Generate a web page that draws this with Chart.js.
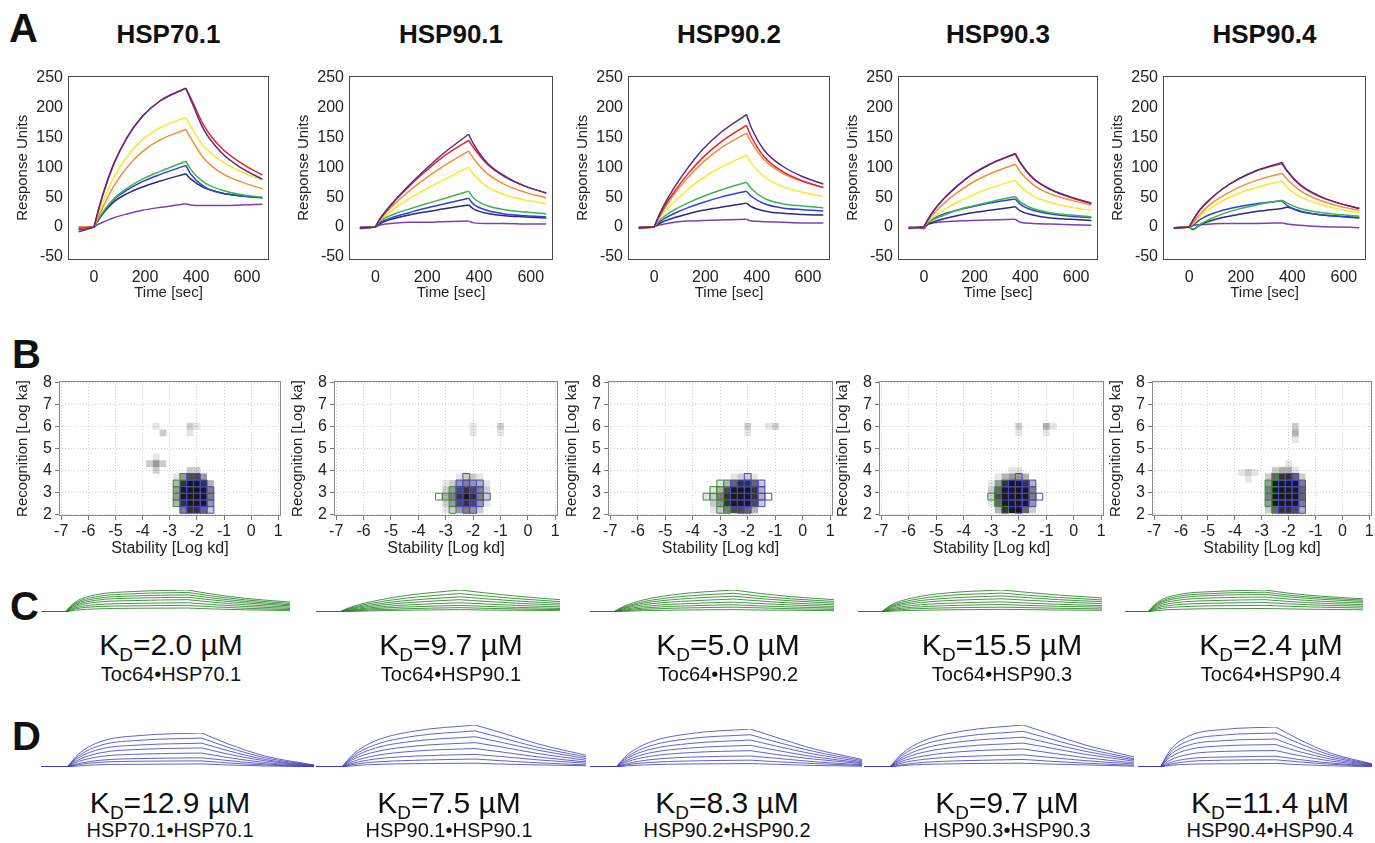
<!DOCTYPE html>
<html>
<head>
<meta charset="utf-8">
<title>HSP binding kinetics</title>
<script src="https://cdn.jsdelivr.net/npm/chart.js@4.4.1/dist/chart.umd.min.js"></script>
<style>
  body { margin: 0; background: #fff; font-family: 'Liberation Sans', Arial, Helvetica, sans-serif; color: #111; }
  #fig { position: relative; width: 1375px; height: 843px; overflow: hidden; }
  canvas { position: absolute; }
  .lab { position: absolute; font-weight: bold; font-size: 40px; line-height: 1; }
  .ttl { position: absolute; font-weight: bold; font-size: 26px; line-height: 1; transform: translateX(-50%); white-space: nowrap; }
  .kd { position: absolute; font-size: 30px; line-height: 1; transform: translateX(-50%); white-space: nowrap; }
  .kd sub { font-size: 19px; vertical-align: -6px; line-height: 0; }
  .pair { position: absolute; font-size: 20px; line-height: 1; transform: translateX(-50%); white-space: nowrap; }
</style>
</head>
<body>
<div id="fig">
  <div class="lab" style="left:9px;top:8px">A</div>
  <div class="lab" style="left:12px;top:334px">B</div>
  <div class="lab" style="left:10px;top:586px">C</div>
  <div class="lab" style="left:12px;top:716px">D</div>
</div>
<script>
// ---- data ----
const proteins = ['HSP70.1', 'HSP90.1', 'HSP90.2', 'HSP90.3', 'HSP90.4'];

// sensorgram time points (s); each curve: purple, red, orange, yellow, green, blue, navy, violet
const tAssay = [-60, 0, 15, 40, 80, 130, 190, 260, 360, 380, 430, 500, 580, 660];
const sprHSP701 = [
  [-8, 0, 25, 61, 108, 150, 185, 211, 232, 212, 163, 124, 98, 80],
  [-2, 0, 25, 61, 108, 150, 185, 211, 232, 215, 170, 132, 106, 87],
  [0, 0, 15, 38, 70, 100, 126, 146, 163, 148, 115, 90, 75, 64],
  [-2, 0, 20, 48, 85, 118, 146, 166, 183, 168, 135, 110, 92, 78],
  [0, 0, 12, 28, 48, 65, 80, 93, 110, 96, 75, 62, 54, 50],
  [-2, 0, 11, 27, 47, 62, 76, 88, 103, 88, 68, 57, 52, 49],
  [-3, 0, 10, 25, 43, 56, 67, 77, 89, 80, 66, 57, 52, 49],
  [-5, 0, 4, 9, 16, 22, 28, 33, 39, 37, 36, 36, 37, 38]
];
const sprHSP901 = [
  [-2, 0, 12, 27, 47, 70, 95, 122, 155, 138, 108, 85, 68, 57],
  [-2, 0, 12, 26, 46, 68, 92, 117, 145, 132, 106, 84, 68, 57],
  [-3, 0, 11, 24, 41, 60, 80, 101, 127, 114, 90, 71, 58, 49],
  [-3, 0, 10, 20, 33, 47, 62, 78, 100, 88, 68, 54, 45, 39],
  [-1, 0, 9, 16, 23, 30, 38, 47, 60, 48, 36, 29, 25, 22],
  [-1, 0, 7, 12, 18, 24, 31, 38, 48, 38, 28, 22, 19, 17],
  [-1, 0, 5, 10, 15, 20, 25, 30, 37, 30, 23, 19, 17, 15],
  [0, 0, 3, 5, 7, 8, 8, 9, 10, 7, 6, 6, 5, 5]
];
const sprHSP902 = [
  [-2, 0, 16, 38, 67, 98, 130, 158, 188, 165, 128, 102, 84, 72],
  [-1, 0, 14, 34, 60, 88, 116, 142, 170, 150, 117, 93, 77, 66],
  [-2, 0, 13, 31, 56, 82, 108, 132, 157, 141, 112, 90, 76, 66],
  [-3, 0, 11, 25, 43, 62, 82, 100, 120, 106, 84, 68, 58, 51],
  [-1, 0, 9, 18, 29, 40, 51, 62, 75, 64, 48, 39, 35, 32],
  [-1, 0, 7, 14, 23, 32, 41, 50, 60, 51, 39, 32, 29, 27],
  [-1, 0, 5, 10, 16, 22, 28, 33, 40, 34, 27, 23, 21, 20],
  [0, 0, 3, 5, 8, 10, 11, 12, 13, 10, 9, 8, 7, 7]
];
const sprHSP903 = [
  [-2, 0, 12, 28, 48, 68, 88, 105, 123, 108, 82, 63, 50, 40],
  [-2, 0, 12, 28, 48, 68, 88, 105, 122, 107, 81, 62, 49, 39],
  [-3, 0, 10, 23, 40, 57, 74, 89, 105, 92, 71, 55, 45, 37],
  [-2, 0, 9, 17, 29, 41, 53, 65, 78, 68, 52, 41, 33, 28],
  [-1, 0, 7, 13, 20, 28, 35, 42, 51, 42, 31, 24, 20, 17],
  [-1, 0, 8, 15, 22, 28, 34, 40, 47, 38, 28, 22, 18, 16],
  [-1, 0, 5, 9, 14, 19, 24, 28, 34, 27, 20, 15, 13, 11],
  [0, -3, 4, 7, 9, 10, 11, 12, 13, 8, 6, 5, 4, 3]
];
const sprHSP904 = [
  [-2, 0, 12, 28, 46, 64, 80, 94, 108, 94, 71, 53, 40, 31],
  [-2, 0, 12, 28, 46, 64, 80, 94, 106, 93, 70, 52, 40, 31],
  [-3, 0, 8, 21, 37, 52, 66, 78, 90, 80, 61, 46, 35, 28],
  [-2, 0, 6, 17, 31, 44, 56, 66, 77, 66, 51, 39, 30, 24],
  [-1, 0, -3, 4, 13, 22, 30, 37, 45, 40, 31, 25, 21, 18],
  [-1, 0, 3, 12, 21, 28, 34, 39, 44, 36, 27, 21, 18, 16],
  [-1, 0, -4, 3, 10, 16, 21, 26, 31, 33, 26, 21, 18, 15],
  [-1, 0, 3, 4, 5, 6, 6, 6, 7, 5, 3, 1, 0, -1]
];
const sprCurves = [sprHSP701, sprHSP901, sprHSP902, sprHSP903, sprHSP904];
const xTicksA = [0, 200, 400, 600];
const yTicksA = [-50, 0, 50, 100, 150, 200, 250];

// kinetic map cells: grey density (0-9) on a grid, plus fitted outlines
const heatCols = [-3.5, -3.25, -3.0, -2.75, -2.5, -2.25, -2.0, -1.75, -1.5, -1.25];
const heatRows = [4.0, 3.7, 3.4, 3.1, 2.8, 2.5, 2.2];
const heatHSP701 = [
  [0,0,0,0,0,2,2,0,0,0],
  [0,0,0,1,4,7,7,4,0,0],
  [0,0,0,3,8,9,9,8,3,0],
  [0,0,0,4,9,9,9,9,5,0],
  [0,0,0,4,9,9,9,9,5,0],
  [0,0,0,3,8,9,9,9,4,0],
  [0,0,0,0,5,8,8,6,2,0]
];
const heatHSP901 = [
  [0,0,0,0,0,0,0,0,0,0],
  [0,0,0,0,1,2,2,1,0,0],
  [0,0,1,2,4,5,4,3,1,0],
  [0,0,2,4,7,8,7,5,2,0],
  [0,0,3,5,8,9,8,5,2,0],
  [0,0,2,4,7,8,7,4,1,0],
  [0,0,1,2,4,5,4,2,0,0]
];
const heatHSP902 = [
  [0,0,0,0,0,0,0,0,0,0],
  [0,0,0,0,1,2,2,1,0,0],
  [0,0,1,3,6,8,8,6,2,0],
  [0,1,3,7,9,9,9,8,3,0],
  [1,2,5,8,9,9,9,8,3,0],
  [0,2,4,8,9,9,9,7,2,0],
  [0,1,2,5,7,7,6,3,0,0]
];
const heatHSP903 = [
  [0,0,0,0,0,1,1,0,0,0],
  [0,0,0,1,3,4,4,3,0,0],
  [0,0,1,4,8,9,9,8,3,0],
  [0,0,2,6,9,9,9,9,5,0],
  [0,0,2,7,9,9,9,9,5,0],
  [0,0,1,6,9,9,9,9,4,0],
  [0,0,0,3,8,9,9,6,2,0]
];
const heatHSP904 = [
  [0,0,0,0,2,3,3,1,0,0],
  [0,0,0,2,6,8,8,6,2,0],
  [0,0,0,4,9,9,9,9,5,0],
  [0,0,0,5,9,9,9,9,6,0],
  [0,0,0,5,9,9,9,9,6,0],
  [0,0,0,4,9,9,9,9,5,0],
  [0,0,0,2,6,8,8,7,3,0]
];
const heatMaps = [heatHSP701, heatHSP901, heatHSP902, heatHSP903, heatHSP904];

// faint side populations: [log kd, log ka, density]
const faintCells = [
  [[-3.75,4.3,2],[-3.5,4.3,4],[-3.25,4.3,2],[-3.5,4.0,2],[-3.5,4.6,1],[-3.25,5.7,2],[-3.5,6.0,1],[-2.25,6.0,2],[-2.0,6.0,1],[-2.25,5.7,1]],
  [[-2.0,6.0,1],[-2.0,5.7,1],[-1.0,6.0,2],[-1.0,5.7,1]],
  [[-2.0,6.0,2],[-2.0,5.7,1],[-1.0,6.0,2],[-1.25,6.0,1]],
  [[-2.0,6.0,2],[-2.0,5.7,1],[-1.0,6.0,3],[-0.75,6.0,1],[-1.0,5.7,1]],
  [[-3.75,3.9,1],[-3.5,3.9,2],[-3.25,3.9,1],[-3.5,3.6,1],[-1.75,5.7,3],[-1.75,6.0,2],[-1.75,5.4,1],[-2.0,4.3,1]]
];
const greenCells = [
  [[-2.5,3.7],[-2.75,3.4],[-2.75,3.1],[-2.75,2.8],[-2.75,2.5]],
  [[-3.25,2.8],[-3.0,2.8],[-2.75,2.8],[-2.75,3.1],[-2.75,2.5],[-2.75,2.2]],
  [[-3.0,3.4],[-2.75,3.4],[-3.25,3.1],[-3.0,3.1],[-3.5,2.8],[-3.25,2.8],[-3.0,2.8],[-3.0,2.5],[-2.75,2.5],[-3.0,2.2],[-2.75,2.2]],
  [[-2.5,3.4],[-2.75,3.1],[-3.0,2.8],[-2.75,2.8],[-2.75,2.5],[-2.5,2.2]],
  [[-2.5,3.7],[-2.25,3.7],[-2.75,3.4],[-2.5,3.4],[-2.75,3.1],[-2.5,3.1],[-2.75,2.8],[-2.5,2.8],[-2.75,2.5],[-2.5,2.5],[-2.5,2.2]]
];
const blueCells = [
  [[-2.25,3.7],[-2.0,3.7],[-2.25,3.4],[-2.0,3.4],[-1.75,3.4],[-2.5,3.1],[-2.25,3.1],[-2.0,3.1],[-1.75,3.1],[-1.5,3.1],
   [-2.5,2.8],[-2.25,2.8],[-2.0,2.8],[-1.75,2.8],[-1.5,2.8],[-2.5,2.5],[-2.25,2.5],[-2.0,2.5],[-1.75,2.5],[-1.5,2.5],
   [-2.5,2.2],[-2.25,2.2],[-2.0,2.2],[-1.75,2.2],[-1.5,2.2]],
  [[-2.25,3.7],[-2.5,3.4],[-2.25,3.4],[-2.0,3.4],[-1.75,3.4],[-2.5,3.1],[-2.25,3.1],[-2.0,3.1],[-1.75,3.1],
   [-2.5,2.8],[-2.25,2.8],[-2.0,2.8],[-1.75,2.8],[-1.5,2.8],[-2.5,2.5],[-2.25,2.5],[-2.0,2.5],[-1.75,2.5],[-2.25,2.2],[-2.0,2.2]],
  [[-2.0,3.7],[-2.5,3.4],[-2.25,3.4],[-2.0,3.4],[-1.75,3.4],[-1.5,3.4],[-2.5,3.1],[-2.25,3.1],[-2.0,3.1],[-1.75,3.1],[-1.5,3.1],
   [-2.5,2.8],[-2.25,2.8],[-2.0,2.8],[-1.75,2.8],[-1.5,2.8],[-1.25,2.8],[-2.5,2.5],[-2.25,2.5],[-2.0,2.5],[-1.75,2.5],[-1.5,2.5],
   [-2.25,2.2],[-2.0,2.2]],
  [[-2.0,3.7],[-2.25,3.4],[-2.0,3.4],[-1.75,3.4],[-1.5,3.4],[-2.5,3.1],[-2.25,3.1],[-2.0,3.1],[-1.75,3.1],[-1.5,3.1],
   [-2.5,2.8],[-2.25,2.8],[-2.0,2.8],[-1.75,2.8],[-1.5,2.8],[-1.25,2.8],[-2.25,2.5],[-2.0,2.5],[-1.75,2.5],[-1.5,2.5],[-2.0,2.2]],
  [[-2.0,3.7],[-1.75,3.7],[-2.25,3.4],[-2.0,3.4],[-1.75,3.4],[-1.5,3.4],[-2.25,3.1],[-2.0,3.1],[-1.75,3.1],[-1.5,3.1],
   [-2.25,2.8],[-2.0,2.8],[-1.75,2.8],[-1.5,2.8],[-2.25,2.5],[-2.0,2.5],[-1.75,2.5],[-1.5,2.5],
   [-2.25,2.2],[-2.0,2.2],[-1.75,2.2],[-1.5,2.2]]
];
const xTicksB = [-7, -6, -5, -4, -3, -2, -1, 0, 1];
const yTicksB = [2, 3, 4, 5, 6, 7, 8];

// fitted curves, relative response (top curve peak = 100)
const tFit = [-70, 0, 30, 90, 200, 360, 430, 530, 660];
const fitToc = [
  [[0,0,45,78,93,100,82,62,45],[0,0,40,69,83,89,73,55,39],[0,0,35,61,73,78,64,48,33],[0,0,30,53,63,67,55,41,28],
   [0,0,25,44,52,56,45,33,22],[0,0,19,33,39,42,34,25,16],[0,0,14,24,28,30,24,17,11],[0,0,8,14,17,18,14,10,6]],
  [[0,0,20,45,75,100,88,72,56],[0,0,17,38,63,84,74,61,47],[0,0,14,31,52,69,61,50,39],[0,0,11,25,42,56,49,40,31],
   [0,0,8,19,32,42,37,30,23],[0,0,6,14,23,30,26,21,16],[0,0,4,9,15,20,17,14,11],[0,0,2,5,8,11,9,8,6]],
  [[0,0,25,55,82,100,86,70,56],[0,0,21,47,70,85,73,60,48],[0,0,18,40,59,72,62,51,40],[0,0,15,33,48,59,51,41,33],
   [0,0,11,25,37,45,39,32,25],[0,0,8,18,27,33,28,23,18],[0,0,5,12,18,22,19,15,12],[0,0,3,6,9,11,9,8,6]],
  [[0,0,33,63,87,100,90,77,64],[0,0,28,54,75,86,77,66,55],[0,0,24,46,63,73,66,56,47],[0,0,20,38,52,60,54,46,38],
   [0,0,15,29,40,46,41,35,29],[0,0,11,21,29,34,30,26,22],[0,0,7,14,19,22,20,17,14],[0,0,4,7,10,12,11,9,8]],
  [[0,0,45,78,93,100,86,72,60],[0,0,40,70,84,90,77,65,54],[0,0,36,62,75,80,69,58,48],[0,0,31,53,64,68,59,49,41],
   [0,0,25,43,52,56,48,40,33],[0,0,19,33,40,43,37,31,26],[0,0,13,23,28,30,26,22,18],[0,0,7,12,15,16,14,12,10]]
];
const fitSelf = [
  [[0,0,38,75,93,100,68,32,6],[0,0,32,64,79,85,58,27,5],[0,0,27,53,65,70,48,22,4],[0,0,21,42,52,56,38,18,3],
   [0,0,16,31,38,41,28,13,3],[0,0,10,20,25,27,19,9,2],[0,0,7,14,17,18,12,6,1],[0,0,3,7,8,9,6,3,1]],
  [[0,0,30,62,86,100,82,55,28],[0,0,26,53,74,86,70,47,24],[0,0,22,45,62,72,59,40,20],[0,0,18,36,50,58,48,32,16],
   [0,0,13,27,38,44,36,24,12],[0,0,9,19,26,30,25,17,9],[0,0,6,12,16,19,15,10,5],[0,0,3,6,8,9,7,5,3]],
  [[0,0,32,65,88,100,78,48,20],[0,0,27,55,75,85,66,41,17],[0,0,23,46,62,71,55,34,14],[0,0,18,37,50,57,44,27,11],
   [0,0,14,28,38,43,33,21,9],[0,0,9,19,26,29,23,14,6],[0,0,6,12,16,18,14,9,4],[0,0,3,6,8,9,7,4,2]],
  [[0,0,30,62,86,100,80,52,24],[0,0,26,53,73,85,68,44,20],[0,0,21,44,61,71,57,37,17],[0,0,17,35,49,57,46,30,14],
   [0,0,13,26,37,43,34,22,10],[0,0,9,18,25,29,23,15,7],[0,0,5,11,15,18,14,9,4],[0,0,3,6,8,9,7,5,2]],
  [[0,0,42,78,94,100,70,35,8],[0,0,36,66,80,85,60,30,7],[0,0,30,55,66,70,49,25,6],[0,0,24,44,53,56,39,20,5],
   [0,0,17,32,39,41,29,15,4],[0,0,11,21,25,27,19,10,3],[0,0,7,14,17,18,13,7,2],[0,0,4,7,8,9,6,3,1]]
];
const kdToc = ['2.0', '9.7', '5.0', '15.5', '2.4'];
const pairToc = ['Toc64•HSP70.1', 'Toc64•HSP90.1', 'Toc64•HSP90.2', 'Toc64•HSP90.3', 'Toc64•HSP90.4'];
const kdSelf = ['12.9', '7.5', '8.3', '9.7', '11.4'];
const pairSelf = ['HSP70.1•HSP70.1', 'HSP90.1•HSP90.1', 'HSP90.2•HSP90.2', 'HSP90.3•HSP90.3', 'HSP90.4•HSP90.4'];

// ---- layout ----
const aBoxes = [[68, 71, 269, 260], [349, 71, 553, 260], [628, 71, 830, 260], [898, 71, 1098, 260], [1163, 71, 1366, 260]];
const bBoxes = [[59, 380, 281, 516], [334, 380, 558, 516], [608, 380, 833, 516], [879, 380, 1104, 516], [1152, 380, 1372, 516]];
const cAreas = [[41, 590, 249, 22], [316, 590, 244, 22], [590, 590, 244, 22], [858, 590, 244, 22], [1125, 590, 238, 22]];
const dAreas = [[41, 733, 273, 34], [316, 725, 270, 42], [590, 729, 272, 38], [864, 725, 270, 42], [1138, 727, 234, 40]];
const cTextX = [171, 451, 728, 1002, 1271];
const dTextX = [170, 449, 727, 1007, 1270];
const ladder = ['#5a2a88', '#e8212b', '#f38f34', '#f5e92a', '#3bb54a', '#2e3fe2', '#2a2a80', '#7b41b3'];

Chart.defaults.font.family = "'Liberation Sans', Arial, Helvetica, sans-serif";
Chart.defaults.color = '#1a1a1a';

const fig = document.getElementById('fig');

const framePlugin = {
  id: 'frame',
  afterDatasetsDraw(chart, args, opts) {
    const a = chart.chartArea, ctx = chart.ctx;
    ctx.save();
    ctx.strokeStyle = opts.color || '#444';
    ctx.lineWidth = 1;
    ctx.strokeRect(Math.round(a.left) + 0.5, Math.round(a.top) + 0.5, Math.round(a.right - a.left) - 1, Math.round(a.bottom - a.top) - 1);
    ctx.restore();
  }
};

function addCanvas(left, top, w, h) {
  const c = document.createElement('canvas');
  c.width = w; c.height = h;
  c.style.left = left + 'px';
  c.style.top = top + 'px';
  c.style.width = w + 'px';
  c.style.height = h + 'px';
  fig.appendChild(c);
  return c;
}

function addText(cls, html, x, y) {
  const d = document.createElement('div');
  d.className = cls;
  d.innerHTML = html;
  d.style.left = x + 'px';
  d.style.top = y + 'px';
  fig.appendChild(d);
}

// baseline / association / dissociation pieces so the 360 s turn stays sharp
function curveSets(times, curves, colors, width) {
  const sets = [];
  curves.forEach((vals, i) => {
    const pts = times.map((t, k) => ({x: t, y: vals[k]}));
    const pieces = [pts.filter(p => p.x <= 0), pts.filter(p => p.x >= 0 && p.x <= 360), pts.filter(p => p.x >= 360)];
    pieces.forEach(seg => sets.push({
      data: seg, borderColor: colors[i], borderWidth: width, pointRadius: 0,
      cubicInterpolationMode: 'monotone', fill: false, order: i
    }));
  });
  return sets;
}

const baseOpts = {responsive: false, animation: false, devicePixelRatio: 1, events: []};

// row A: sensorgrams
aBoxes.forEach(([l, t, r, b], p) => {
  const padTop = 10, padRight = 10, yW = 58, xH = 46;
  addText('ttl', proteins[p], (l + r) / 2, 21);
  const cv = addCanvas(l - yW, t - padTop, yW + (r - l) + padRight, padTop + (b - t) + xH);
  new Chart(cv, {
    type: 'line',
    data: {datasets: curveSets(tAssay, sprCurves[p], ladder, 1.5)},
    options: Object.assign({}, baseOpts, {
      layout: {padding: {top: padTop, right: padRight, left: 0, bottom: 0}},
      plugins: {legend: {display: false}, tooltip: {enabled: false}, frame: {color: '#4a4a4a'}},
      scales: {
        x: {
          type: 'linear', min: -102, max: 686,
          afterBuildTicks: ax => { ax.ticks = xTicksA.map(v => ({value: v})); },
          afterFit: ax => { ax.height = xH; },
          grid: {display: false, drawTicks: false}, border: {display: false},
          ticks: {font: {size: 16}, color: '#222', padding: 8, maxRotation: 0, autoSkip: false},
          title: {display: true, text: 'Time [sec]', font: {size: 15}, color: '#222', padding: {top: 0, bottom: 4}}
        },
        y: {
          min: -55, max: 253,
          afterBuildTicks: ax => { ax.ticks = yTicksA.map(v => ({value: v})); },
          afterFit: ax => { ax.width = yW; },
          grid: {display: false, drawTicks: false}, border: {display: false},
          ticks: {font: {size: 16}, color: '#222', padding: 5, autoSkip: false},
          title: {display: true, text: 'Response Units', font: {size: 15}, color: '#222', padding: {top: 4, bottom: 0}}
        }
      }
    }),
    plugins: [framePlugin]
  });
});

// row B: kinetic maps
bBoxes.forEach(([l, t, r, b], p) => {
  const padTop = 10, padRight = 8, yW = 48, xH = 45;
  const heatPts = [], heatCol = [];
  heatMaps[p].forEach((row, ri) => row.forEach((v, ci) => {
    if (v > 0) { heatPts.push({x: heatCols[ci], y: heatRows[ri]}); heatCol.push('rgba(0,0,0,' + (v / 10) + ')'); }
  }));
  faintCells[p].forEach(([x, y, v]) => { heatPts.push({x, y}); heatCol.push('rgba(0,0,0,' + (v / 10) + ')'); });
  const cell = {pointStyle: 'rect', pointRadius: 4.8, pointHoverRadius: 4.8};
  const cv = addCanvas(l - yW, t - padTop, yW + (r - l) + padRight, padTop + (b - t) + xH);
  new Chart(cv, {
    type: 'scatter',
    data: {datasets: [
      Object.assign({data: blueCells[p].map(([x, y]) => ({x, y})), pointBackgroundColor: 'rgba(0,0,0,0)', pointBorderColor: '#4848c4', pointBorderWidth: 1, order: 0}, cell),
      Object.assign({data: greenCells[p].map(([x, y]) => ({x, y})), pointBackgroundColor: 'rgba(0,0,0,0)', pointBorderColor: '#3c8c3c', pointBorderWidth: 1, order: 1}, cell),
      Object.assign({data: heatPts, pointBackgroundColor: heatCol, pointBorderWidth: 0, order: 2}, cell)
    ]},
    options: Object.assign({}, baseOpts, {
      layout: {padding: {top: padTop, right: padRight, left: 0, bottom: 0}},
      plugins: {legend: {display: false}, tooltip: {enabled: false}, frame: {color: '#8a8a8a'}},
      scales: {
        x: {
          type: 'linear', min: -7.08, max: 1.1,
          afterBuildTicks: ax => { ax.ticks = xTicksB.map(v => ({value: v})); },
          afterFit: ax => { ax.height = xH; },
          grid: {color: '#cfcfcf', tickColor: '#777', tickLength: 4, tickBorderDash: []},
          border: {display: false, dash: [1, 2]},
          ticks: {font: {size: 16, lineHeight: 1}, color: '#222', padding: 4, maxRotation: 0, autoSkip: false, autoSkipPadding: 0},
          title: {display: true, text: 'Stability [Log kd]', font: {size: 16}, color: '#222', padding: {top: 0, bottom: 3}}
        },
        y: {
          min: 1.92, max: 8.06,
          afterBuildTicks: ax => { ax.ticks = yTicksB.map(v => ({value: v})); },
          afterFit: ax => { ax.width = yW; },
          grid: {color: '#cfcfcf', tickColor: '#777', tickLength: 4, tickBorderDash: []},
          border: {display: false, dash: [1, 2]},
          ticks: {font: {size: 16, lineHeight: 1}, color: '#222', padding: 3, autoSkip: false, autoSkipPadding: 0},
          title: {display: true, text: 'Recognition [Log ka]', font: {size: 15}, color: '#222', padding: {top: 3, bottom: 0}}
        }
      }
    }),
    plugins: [framePlugin]
  });
});

// rows C and D: fitted curves with affinities
function drawFit(area, curves, colour) {
  const [l, t, w, h] = area;
  const cv = addCanvas(l - 2, t - 2, w + 4, h + 4);
  new Chart(cv, {
    type: 'line',
    data: {datasets: curveSets(tFit, curves, curves.map(() => colour), 1)},
    options: Object.assign({}, baseOpts, {
      layout: {padding: 2},
      plugins: {legend: {display: false}, tooltip: {enabled: false}},
      scales: {
        x: {type: 'linear', display: false, min: -70, max: 660},
        y: {display: false, min: 0, max: 100}
      }
    })
  });
}

cAreas.forEach((area, p) => {
  drawFit(area, fitToc[p], 'rgba(38,130,38,0.85)');
  addText('kd', 'K<sub>D</sub>=' + kdToc[p] + ' µM', cTextX[p], 630);
  addText('pair', pairToc[p], cTextX[p], 664);
});
dAreas.forEach((area, p) => {
  drawFit(area, fitSelf[p], 'rgba(60,60,185,0.8)');
  addText('kd', 'K<sub>D</sub>=' + kdSelf[p] + ' µM', dTextX[p], 788);
  addText('pair', pairSelf[p], dTextX[p], 820);
});
</script>
</body>
</html>
